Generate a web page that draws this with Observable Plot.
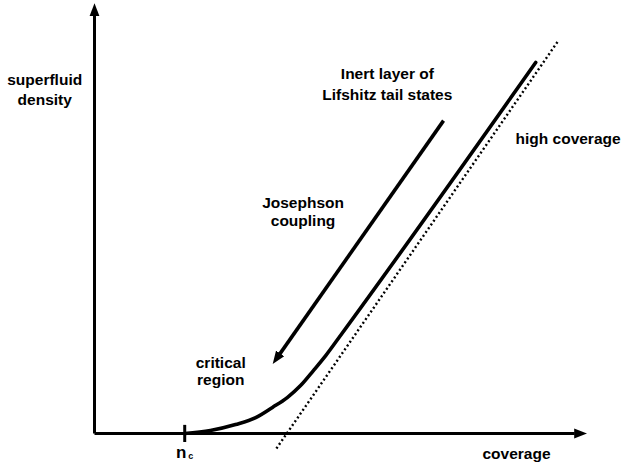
<!DOCTYPE html>
<html>
<head>
<meta charset="utf-8">
<script src="https://cdn.jsdelivr.net/npm/d3@7"></script>
<script src="https://cdn.jsdelivr.net/npm/@observablehq/plot@0.6"></script>
<style>
  html, body { margin: 0; padding: 0; background: #fff; }
  svg { display: block; }
</style>
</head>
<body>
<script>
// ---- data (arbitrary schematic units: coverage 0..100, density 0..100) ----
const curveX = [18.3, 23.5, 28.6, 32.7, 36.1, 39.1, 41.8, 44.4, 46.9, 49.9, 89.5];
const curveY = [0, 0.7, 2.1, 3.7, 6.1, 8.4, 11.2, 14.7, 18.2, 22.9, 86.7];

const asymptoteX = [36.9, 94.1];
const asymptoteY = [-3.5, 91.8];

const axisLinks = [
  {x1: 0, y1: 0, x2: 0, y2: 97.6},   // density axis
  {x1: 0, y1: 0, x2: 97.4, y2: 0}    // coverage axis
];
const flowArrow = [{x1: 70.8, y1: 73.1, x2: 37.6, y2: 18.6}];

const ncX = 18.3;
const ncTick = [{x: ncX, y1: -2.1, y2: 1.9}];

const labels2 = [
  {x: -10.1, y: 80.6, text: "superfluid\ndensity", lh: 1.29},
  {x: 59.4, y: 82.0, text: "Inert layer of\nLifshitz tail states", lh: 1.4},
  {x: 42.3, y: 51.9, text: "Josephson\ncoupling", lh: 1.16},
  {x: 25.6, y: 14.6, text: "critical\nregion", lh: 1.12}
];
const labels1 = [
  {x: 85.4, y: 68.9, text: "high coverage", anchor: "start"},
  {x: 85.6, y: -4.7, text: "coverage", anchor: "middle"}
];
const ncLabel = [{x: 17.6, y: -4.4, text: "n"}];
const ncSub = [{x: 19.5, y: -5.3, text: "c"}];

// ---- filled arrowhead marker ----
const filledHead = (color) => {
  const m = d3.create("svg:marker")
    .attr("viewBox", "0 -6 13 12")
    .attr("markerWidth", 13)
    .attr("markerHeight", 12)
    .attr("markerUnits", "userSpaceOnUse")
    .attr("refX", 0.5)
    .attr("refY", 0)
    .attr("orient", "auto");
  m.append("path")
    .attr("d", "M0,-5L13,0L0,5Z")
    .attr("fill", color)
    .attr("stroke", "none");
  return m.node();
};

const font = "'Liberation Sans', Arial, Helvetica, sans-serif";

const chart = Plot.plot({
  width: 625,
  height: 464,
  marginLeft: 94,
  marginRight: 38,
  marginTop: 5,
  marginBottom: 31,
  x: {domain: [0, 100], axis: null},
  y: {domain: [0, 100], axis: null},
  style: {fontFamily: font, background: "#fff", overflow: "visible"},
  marks: [
    Plot.link(axisLinks, {x1: "x1", y1: "y1", x2: "x2", y2: "y2", stroke: "black", strokeWidth: 3, markerEnd: filledHead}),
    Plot.ruleX(ncTick, {x: "x", y1: "y1", y2: "y2", stroke: "black", strokeWidth: 3}),
    Plot.line(asymptoteX.map((x, i) => ({x, y: asymptoteY[i]})), {x: "x", y: "y", stroke: "black", strokeWidth: 2.4, strokeDasharray: "2,2.6", strokeLinecap: "butt"}),
    Plot.line(curveX.map((x, i) => ({x, y: curveY[i]})), {x: "x", y: "y", stroke: "black", strokeWidth: 3.6, curve: "monotone-x", strokeLinecap: "round"}),
    Plot.link(flowArrow, {x1: "x1", y1: "y1", x2: "x2", y2: "y2", stroke: "black", strokeWidth: 3.6, markerEnd: filledHead}),
    ...labels2.map(d => Plot.text([d], {x: "x", y: "y", text: "text", lineHeight: d.lh, fontSize: 15.5, fontWeight: "bold", fill: "black", textAnchor: "middle"})),
    ...labels1.map(d => Plot.text([d], {x: "x", y: "y", text: "text", fontSize: 15.5, fontWeight: "bold", fill: "black", textAnchor: d.anchor})),
    Plot.text(ncLabel, {x: "x", y: "y", text: "text", fontSize: 17, fontWeight: "bold", fill: "black"}),
    Plot.text(ncSub, {x: "x", y: "y", text: "text", fontSize: 9, fontWeight: "bold", fill: "black"})
  ]
});
document.body.appendChild(chart);
</script>
</body>
</html>
